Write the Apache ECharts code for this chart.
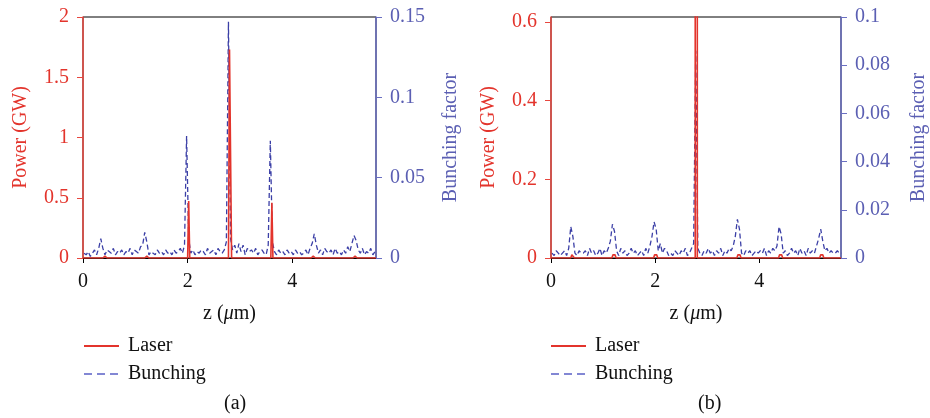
<!DOCTYPE html>
<html>
<head>
<meta charset="utf-8">
<script src="https://cdn.jsdelivr.net/npm/echarts@6/dist/echarts.min.js"></script>
<style>
  html, body { margin: 0; padding: 0; background: #fff; }
  #main { width: 930px; height: 418px; }
</style>
</head>
<body>
<div id="main"></div>
<script>
var chart = echarts.init(document.getElementById('main'));

// sample positions of the bunching curves (um)
var zGrid = [
  0.02,0.06,0.10,0.14,0.18,0.22,0.26,0.30,0.34,0.38,
  0.42,0.46,0.50,0.54,0.58,0.62,0.66,0.70,0.74,0.78,
  0.82,0.86,0.90,0.94,0.98,1.02,1.06,1.10,1.14,1.18,
  1.22,1.26,1.30,1.34,1.38,1.42,1.46,1.50,1.54,1.58,
  1.62,1.66,1.70,1.74,1.78,1.82,1.86,1.90,1.94,1.98,
  2.02,2.06,2.10,2.14,2.18,2.22,2.26,2.30,2.34,2.38,
  2.42,2.46,2.50,2.54,2.58,2.62,2.66,2.70,2.74,2.78,
  2.82,2.86,2.90,2.94,2.98,3.02,3.06,3.10,3.14,3.18,
  3.22,3.26,3.30,3.34,3.38,3.42,3.46,3.50,3.54,3.58,
  3.62,3.66,3.70,3.74,3.78,3.82,3.86,3.90,3.94,3.98,
  4.02,4.06,4.10,4.14,4.18,4.22,4.26,4.30,4.34,4.38,
  4.42,4.46,4.50,4.54,4.58,4.62,4.66,4.70,4.74,4.78,
  4.82,4.86,4.90,4.94,4.98,5.02,5.06,5.10,5.14,5.18,
  5.22,5.26,5.30,5.34,5.38,5.42,5.46,5.50,5.54,5.58
];

// (a) bunching factor
var bunchA = [
  0.003,0.002,0.004,0.001,0.003,0.005,0.002,0.006,0.012,0.006,
  0.002,0.005,0.004,0.003,0.006,0.002,0.004,0.003,0.005,0.002,
  0.004,0.003,0.006,0.002,0.005,0.004,0.003,0.007,0.008,0.016,
  0.010,0.002,0.004,0.003,0.002,0.005,0.003,0.004,0.002,0.005,
  0.003,0.004,0.002,0.005,0.003,0.004,0.006,0.003,0.008,0.076,
  0.012,0.003,0.005,0.002,0.004,0.003,0.005,0.004,0.002,0.006,
  0.003,0.004,0.005,0.002,0.006,0.004,0.003,0.005,0.010,0.147,
  0.012,0.005,0.008,0.003,0.009,0.004,0.008,0.002,0.006,0.004,
  0.005,0.003,0.006,0.002,0.004,0.005,0.003,0.002,0.008,0.073,
  0.010,0.004,0.002,0.005,0.003,0.004,0.002,0.005,0.003,0.004,
  0.002,0.005,0.003,0.004,0.002,0.003,0.005,0.002,0.006,0.009,
  0.015,0.008,0.003,0.005,0.002,0.006,0.004,0.003,0.005,0.002,
  0.006,0.003,0.004,0.002,0.005,0.003,0.007,0.004,0.009,0.014,
  0.011,0.005,0.003,0.006,0.002,0.004,0.003,0.006,0.002,0.004
];

// (b) bunching factor
var bunchB = [
  0.002,0.001,0.003,0.002,0.001,0.002,0.003,0.001,0.004,0.013,
  0.009,0.002,0.001,0.003,0.002,0.002,0.003,0.001,0.004,0.002,
  0.003,0.001,0.002,0.004,0.001,0.003,0.002,0.004,0.007,0.014,
  0.011,0.003,0.001,0.004,0.002,0.003,0.001,0.002,0.004,0.002,
  0.003,0.001,0.002,0.003,0.001,0.004,0.002,0.005,0.009,0.015,
  0.012,0.003,0.006,0.002,0.004,0.003,0.001,0.002,0.001,0.003,
  0.002,0.001,0.003,0.002,0.004,0.001,0.002,0.004,0.006,0.086,
  0.004,0.002,0.001,0.003,0.002,0.004,0.002,0.003,0.001,0.003,
  0.002,0.004,0.001,0.003,0.002,0.004,0.003,0.005,0.009,0.016,
  0.012,0.002,0.001,0.003,0.002,0.003,0.001,0.002,0.003,0.002,
  0.003,0.002,0.004,0.001,0.003,0.002,0.004,0.003,0.005,0.013,
  0.010,0.002,0.003,0.001,0.002,0.004,0.002,0.003,0.001,0.004,
  0.002,0.003,0.001,0.004,0.002,0.003,0.002,0.005,0.008,0.012,
  0.007,0.003,0.004,0.002,0.003,0.002,0.002,0.003,0.002,0.002
];

// (a) laser power (GW)
var laserZA = [0, 0.38, 0.42, 0.46, 1.18, 1.22, 1.26, 2.00, 2.02, 2.04,
               2.78, 2.80, 2.82, 2.84, 3.59, 3.61, 3.63, 4.36, 4.40, 4.44,
               5.16, 5.20, 5.24, 5.60];
var laserA  = [0, 0, 0.015, 0, 0, 0.015, 0, 0, 0.472, 0,
               0, 1.73, 1.73, 0, 0, 0.458, 0, 0, 0.015, 0,
               0, 0.015, 0, 0];

// (b) laser power (GW), main spike runs off the top of the axis
var laserZB = [0, 0.38, 0.40, 0.415, 0.43, 0.45, 1.17, 1.19, 1.21, 1.23, 1.25,
               1.97, 1.99, 2.01, 2.03, 2.05, 2.77, 2.77, 2.81, 2.81,
               3.57, 3.59, 3.61, 3.63, 3.65, 4.37, 4.39, 4.41, 4.43, 4.45,
               5.16, 5.18, 5.20, 5.22, 5.24, 5.57];
var laserB  = [0, 0, 0.008, 0.01, 0.008, 0, 0, 0.008, 0.01, 0.008, 0,
               0, 0.008, 0.01, 0.008, 0, 0, 1.2, 1.2, 0,
               0, 0.008, 0.01, 0.008, 0, 0, 0.008, 0.01, 0.008, 0,
               0, 0.008, 0.01, 0.008, 0, 0];

var RED = '#e3342c';
var BLUE = '#3b3fa6';
var RED_AX = '#e8473f';
var BLUE_AX = '#6a6fc2';
var FONT = 'Liberation Serif';

function pairs(xs, ys) {
  return xs.map(function (x, i) { return [x, ys[i]]; });
}

function xAxisOf(grid, max) {
  return {
    type: 'value', gridIndex: grid, min: 0, max: max,
    name: 'z ({i|μ}m)', nameLocation: 'middle', nameGap: 46,
    nameTextStyle: {
      color: '#111', fontFamily: FONT, fontSize: 20,
      rich: { i: { fontStyle: 'italic', fontFamily: FONT, fontSize: 20, color: '#111' } }
    },
    axisLine: { lineStyle: { color: '#000', width: 1 } },
    axisTick: { customValues: [0, 2, 4], length: 5, lineStyle: { color: '#000' } },
    axisLabel: { customValues: [0, 2, 4], color: '#111', fontFamily: FONT, fontSize: 20, margin: 14 },
    splitLine: { show: false }
  };
}

function powerAxis(grid, max, ticks, gap) {
  return {
    type: 'value', gridIndex: grid, position: 'left', min: 0, max: max,
    name: 'Power (GW)', nameLocation: 'middle', nameGap: gap,
    nameTextStyle: { color: RED, fontFamily: FONT, fontSize: 20 },
    axisLine: { show: true, lineStyle: { color: RED_AX, width: 1.5 } },
    axisTick: { show: true, customValues: ticks, length: 6, lineStyle: { color: RED_AX } },
    axisLabel: { customValues: ticks, color: RED, fontFamily: FONT, fontSize: 20, margin: 14 },
    splitLine: { show: false }
  };
}

function bunchAxis(grid, max, interval, gap) {
  return {
    type: 'value', gridIndex: grid, position: 'right', min: 0, max: max, interval: interval,
    name: 'Bunching factor', nameLocation: 'middle', nameGap: gap,
    nameTextStyle: { color: '#5b5fb3', fontFamily: FONT, fontSize: 20 },
    axisLine: { show: true, lineStyle: { color: BLUE_AX, width: 1.5 } },
    axisTick: { show: true, length: 6, lineStyle: { color: BLUE_AX } },
    axisLabel: { color: '#5b5fb3', fontFamily: FONT, fontSize: 20, margin: 14 },
    splitLine: { show: false }
  };
}

function legendAt(left) {
  return {
    orient: 'vertical', left: left, top: 336, padding: 0,
    itemWidth: 35, itemHeight: 14, itemGap: 8,
    data: [
      'Laser',
      { name: 'Bunching', lineStyle: { type: [8, 5], color: '#5a60c6', width: 1.5 } }
    ],
    itemStyle: { opacity: 0 },
    textStyle: { color: '#111', fontFamily: FONT, fontSize: 20, padding: [0, 0, 0, 4] }
  };
}

var option = {
  animation: false,
  grid: [
    { left: 83, top: 17, width: 293, height: 241, show: true, borderColor: '#000', borderWidth: 1 },
    { left: 551, top: 17, width: 291, height: 241, show: true, borderColor: '#000', borderWidth: 1 }
  ],
  xAxis: [xAxisOf(0, 5.6), xAxisOf(1, 5.57)],
  yAxis: [
    powerAxis(0, 2, [0, 0.5, 1, 1.5, 2], 52),
    bunchAxis(0, 0.15, 0.05, 65),
    powerAxis(1, 0.613, [0, 0.2, 0.4, 0.6], 52),
    bunchAxis(1, 0.1, 0.02, 68)
  ],
  legend: [legendAt(83), legendAt(550)],
  series: [
    {
      name: 'Bunching', type: 'line', xAxisIndex: 0, yAxisIndex: 1,
      data: pairs(zGrid, bunchA), symbol: 'none',
      lineStyle: { color: BLUE, width: 1.3, type: [5, 3] }, itemStyle: { color: BLUE }
    },
    {
      name: 'Laser', type: 'line', xAxisIndex: 0, yAxisIndex: 0,
      data: pairs(laserZA, laserA), symbol: 'none',
      lineStyle: { color: RED, width: 1.6 }, itemStyle: { color: RED }
    },
    {
      name: 'Bunching', type: 'line', xAxisIndex: 1, yAxisIndex: 3,
      data: pairs(zGrid, bunchB), symbol: 'none',
      lineStyle: { color: BLUE, width: 1.3, type: [5, 3] }, itemStyle: { color: BLUE }
    },
    {
      name: 'Laser', type: 'line', xAxisIndex: 1, yAxisIndex: 2,
      data: pairs(laserZB, laserB), symbol: 'none',
      lineStyle: { color: RED, width: 1.6 }, itemStyle: { color: RED }
    }
  ],
  graphic: [
    { type: 'text', left: 224, top: 394, style: { text: '(a)', fill: '#111', font: '20px "Liberation Serif"' } },
    { type: 'text', left: 698, top: 394, style: { text: '(b)', fill: '#111', font: '20px "Liberation Serif"' } }
  ]
};

chart.setOption(option);
</script>
</body>
</html>
